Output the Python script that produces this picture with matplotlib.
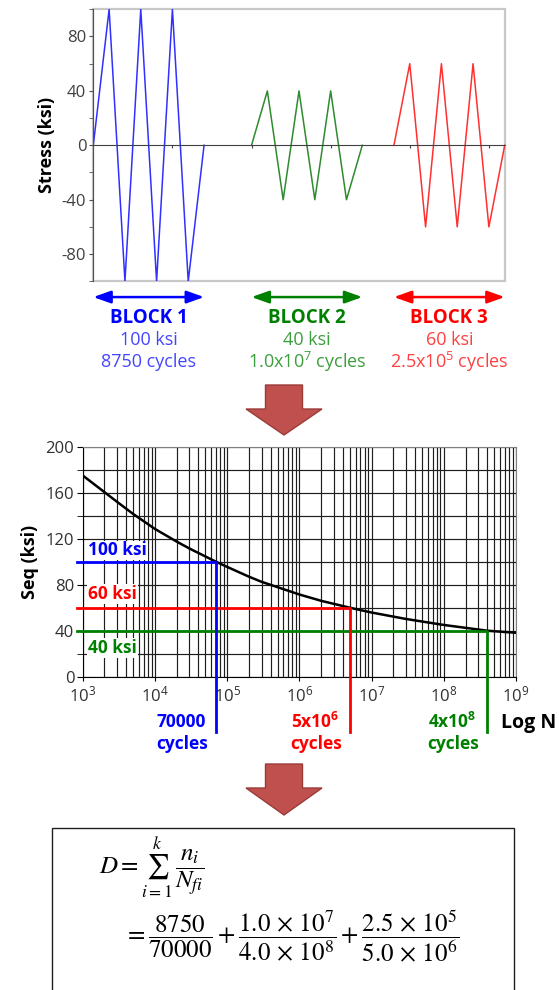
import matplotlib
matplotlib.use('Agg')
import matplotlib.pyplot as plt
from matplotlib.patches import Polygon, Rectangle
from matplotlib.ticker import NullFormatter, FixedLocator, LogFormatterMathtext

plt.rcParams['font.family'] = ['Open Sans', 'DejaVu Sans']
plt.rcParams['axes.unicode_minus'] = False

# ---- data ----
block_names = ['BLOCK 1', 'BLOCK 2', 'BLOCK 3']
block_stress = [100, 40, 60]
block_cycles = ['8750', r'$\mathdefault{1.0x10^{7}}$', r'$\mathdefault{2.5x10^{5}}$']
block_x = [[0, 1, 2, 3, 4, 5, 6, 7],
           [10, 11, 12, 13, 14, 15, 16, 17],
           [19, 20, 21, 22, 23, 24, 25, 26]]
block_y = [[0, 100, -100, 100, -100, 100, -100, 0],
           [0, 40, -40, 40, -40, 40, -40, 0],
           [0, 60, -60, 60, -60, 60, -60, 0]]

sn_cycles = [1e3, 2e3, 3e3, 5e3, 1e4, 2e4, 3e4, 7e4, 1e5, 2e5, 3e5,
             1e6, 2e6, 5e6, 1e7, 3e7, 1e8, 4e8, 1e9]
sn_stress = [175, 160.5, 152, 141.5, 128.5, 117.5, 111.5, 100, 95.5, 87, 82.5,
             71.5, 66, 60, 55.8, 50.2, 45, 40, 38.2]

life_cycles = [7e4, 4e8, 5e6]
life_labels = ['70000', r'$\mathdefault{4x10^{8}}$', r'$\mathdefault{5x10^{6}}$']

n_num = ['8750', r'1.0\,\times\,10^{7}', r'2.5\,\times\,10^{5}']
n_den = ['70000', r'4.0\,\times\,10^{8}', r'5.0\,\times\,10^{6}']

line_colors = ['#0000FF', '#008000', '#FF0000']
wave_colors = ['#3030FF', '#2E8B2E', '#FF3030']
text_colors = ['#4545FF', '#3C9E3C', '#FF4040']

W, H = 559, 990
fig = plt.figure(figsize=(W / 100, H / 100), dpi=100)


def fx(px):
    return px / W


def fy(py):
    return 1 - py / H


# ---- top: stress blocks ----
ax1 = fig.add_axes([fx(93.3), fy(281.3), fx(504.7 - 93.3), 272 / H])
for xs, ys, c in zip(block_x, block_y, wave_colors):
    ax1.plot(xs, ys, color=c, lw=1.1)
ax1.set_xlim(0, 26)
ax1.set_ylim(-100, 100)
ax1.spines['top'].set_visible(False)
ax1.spines['right'].set_visible(False)
ax1.spines['bottom'].set_position(('data', 0))
ax1.spines['bottom'].set_color('#404040')
ax1.spines['left'].set_color('#505050')
ax1.add_patch(Rectangle((0, 0), 1, 1, transform=ax1.transAxes, fill=False,
                        ec='#c8c8c8', lw=1.6, clip_on=False, zorder=0))
ax1.set_xticks([5, 10, 15, 20, 25])
ax1.set_xticklabels([])
ax1.tick_params(axis='x', direction='out', length=2.5, color='#404040')
ax1.set_yticks([-80, -40, 0, 40, 80])
ax1.yaxis.set_minor_locator(FixedLocator([-100, -60, -20, 20, 60, 100]))
ax1.tick_params(axis='y', which='both', direction='out', length=3,
                color='#505050', labelsize=12, labelcolor='#404040', pad=2)
ax1.set_ylabel('Stress (ksi)', fontsize=13, fontweight='bold', labelpad=4)

tr = ax1.get_xaxis_transform()
for xs, name, s, cyc, c, tc in zip(block_x, block_names, block_stress, block_cycles,
                                   line_colors, text_colors):
    ax1.annotate('', xy=(xs[-1], -0.058), xytext=(xs[0], -0.058), xycoords=tr,
                 textcoords=tr, annotation_clip=False,
                 arrowprops=dict(arrowstyle='<|-|>,head_length=0.7,head_width=0.25',
                                 color=c, lw=1.8, mutation_scale=15,
                                 shrinkA=0, shrinkB=0))
    xm = (xs[0] + xs[-1]) / 2
    ax1.text(xm, -0.136, name, transform=tr, ha='center', va='center',
             color=c, fontsize=13.5, fontweight='bold')
    ax1.text(xm, -0.217, f'{s} ksi', transform=tr, ha='center', va='center',
             color=tc, fontsize=13)
    ax1.text(xm, -0.298, f'{cyc} cycles', transform=tr, ha='center', va='center',
             color=tc, fontsize=13)


# ---- block arrows ----
def block_arrow(cx, top, neck, tip, shaft_w=37, head_w=76):
    pts = [(cx - shaft_w / 2, top), (cx + shaft_w / 2, top), (cx + shaft_w / 2, neck),
           (cx + head_w / 2, neck), (cx, tip), (cx - head_w / 2, neck),
           (cx - shaft_w / 2, neck)]
    fig.add_artist(Polygon([(fx(x), fy(y)) for x, y in pts], closed=True,
                           transform=fig.transFigure, fc='#C0504D', ec='#9A3B38', lw=1))


block_arrow(284, 385, 409, 435)
block_arrow(284, 764, 788, 815)

# ---- middle: S-N curve ----
ax2 = fig.add_axes([fx(82.7), fy(676.7), fx(516 - 82.7), 230 / H])
ax2.set_xscale('log')
ax2.set_xlim(1e3, 1e9)
ax2.set_ylim(0, 200)
ax2.xaxis.set_major_locator(FixedLocator([10.0 ** k for k in range(3, 10)]))
ax2.xaxis.set_major_formatter(LogFormatterMathtext())
ax2.xaxis.set_minor_locator(FixedLocator([m * 10.0 ** k for k in range(3, 9)
                                          for m in range(2, 10)]))
ax2.xaxis.set_minor_formatter(NullFormatter())
ax2.set_yticks([0, 40, 80, 120, 160, 200])
ax2.yaxis.set_minor_locator(FixedLocator([20, 60, 100, 140, 180]))
ax2.grid(True, which='both', color='#1e1e1e', lw=0.85)
ax2.set_axisbelow(True)
ax2.tick_params(axis='x', which='major', direction='out', length=3, labelsize=12,
                labelcolor='#303030', pad=3)
ax2.tick_params(axis='x', which='minor', length=0)
ax2.tick_params(axis='y', which='both', direction='out', length=4, labelsize=12,
                labelcolor='#303030', pad=2)
for sp in ['top', 'right']:
    ax2.spines[sp].set_color('#808080')
ax2.set_ylabel('Seq (ksi)', fontsize=13, fontweight='bold', labelpad=5)

ax2.plot(sn_cycles, sn_stress, color='black', lw=1.8, zorder=4)

x_left = 1e3 * 10 ** -0.083
order = [1, 2, 0]
label_y = [110, 25, 72]
for i in order:
    s, n, c = block_stress[i], life_cycles[i], line_colors[i]
    ax2.plot([x_left, n, n], [s, s, -48], color=c, lw=2, clip_on=False, zorder=5)
    ax2.text(10 ** 3.073, label_y[i], f'{s} ksi', color=c, fontsize=12.5,
             fontweight='bold', va='center', ha='left', zorder=6,
             bbox=dict(fc='white', ec='none', pad=0.5))
    ax2.annotate(life_labels[i], xy=(n, 0), xytext=(-35, -45.3),
                 textcoords='offset pixels', ha='center', va='center', color=c,
                 fontsize=12.5, fontweight='bold', annotation_clip=False)
    ax2.annotate('cycles', xy=(n, 0), xytext=(-34, -67.3),
                 textcoords='offset pixels', ha='center', va='center', color=c,
                 fontsize=12.5, fontweight='bold', annotation_clip=False)

fig.text(fx(529), fy(723), 'Log N', fontsize=14, fontweight='bold',
         ha='center', va='center', color='black')

# ---- bottom: Miner's rule ----
fig.add_artist(Rectangle((fx(52.3), -0.05), fx(514 - 52.3), 1 - 828 / H + 0.05,
                         transform=fig.transFigure, fill=False, ec='#202020', lw=1))
line1 = r'$D = \sum_{i=1}^{k}\,\dfrac{n_i}{N_{fi}}$'
line2 = '$= ' + r' + '.join(r'\dfrac{%s}{%s}' % (a, b) for a, b in zip(n_num, n_den)) + '$'
fig.text(fx(99), fy(868), line1, fontsize=18, math_fontfamily='stix',
         ha='left', va='center')
fig.text(fx(124), fy(936), line2, fontsize=18, math_fontfamily='stix',
         ha='left', va='center')

fig.savefig('out.png', dpi=100, facecolor='white')
